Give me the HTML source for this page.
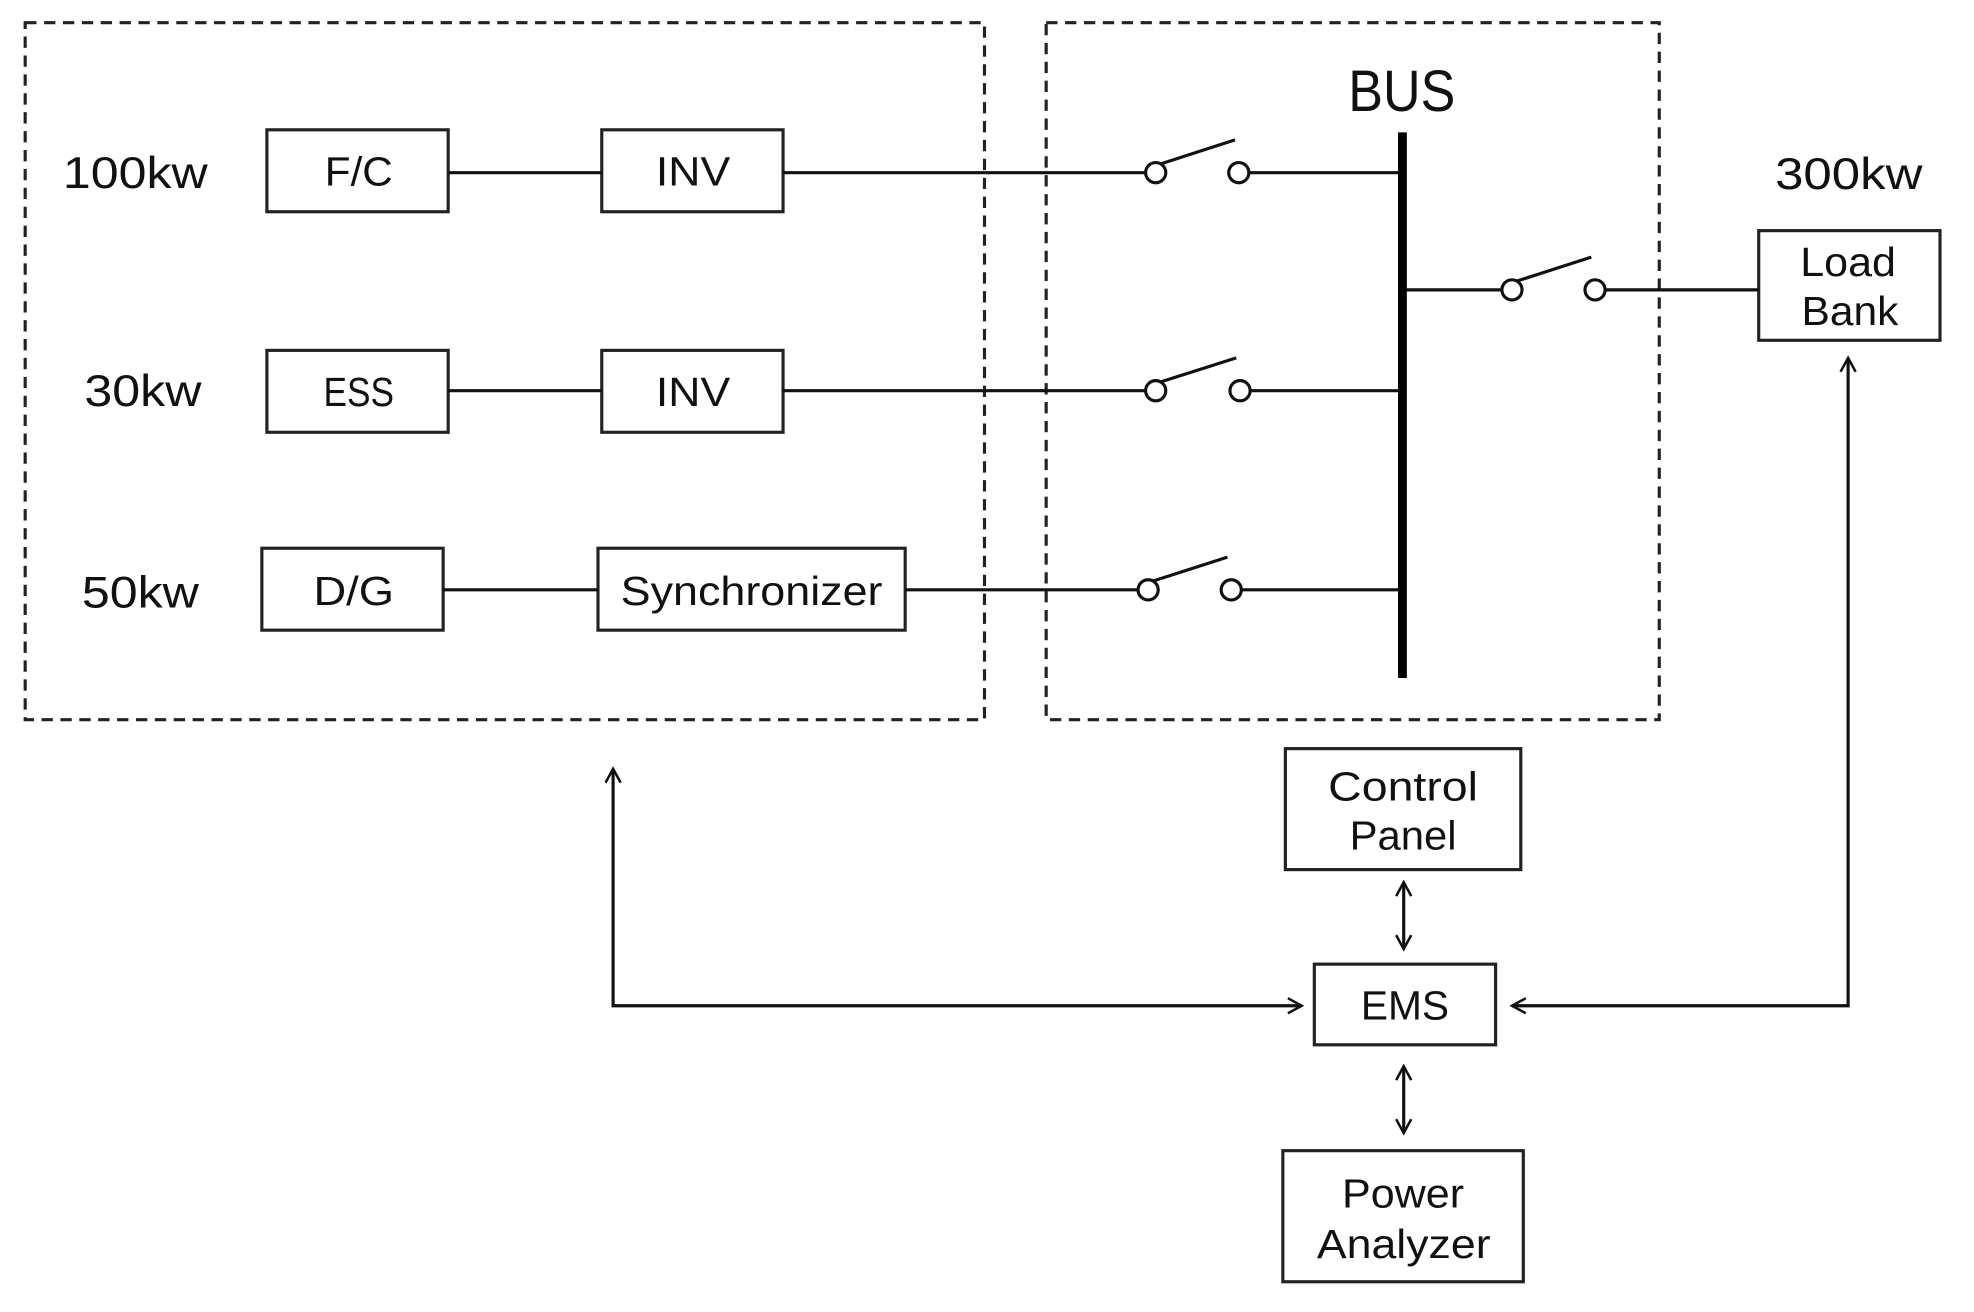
<!DOCTYPE html>
<html><head><meta charset="utf-8"><style>
html,body{margin:0;padding:0;background:#fff;}
svg{display:block;}
text{font-family:"Liberation Sans",sans-serif;fill:#111;}
</style></head><body>
<svg width="1974" height="1312" viewBox="0 0 1568 1041" preserveAspectRatio="none" xmlns="http://www.w3.org/2000/svg">
<defs>
<marker id="a" markerWidth="14" markerHeight="14" refX="12" refY="7" orient="auto-start-reverse" markerUnits="userSpaceOnUse">
<path d="M1,1 L12,7 L1,13" fill="none" stroke="#111" stroke-width="2"/>
</marker>
</defs>
<g fill="none" stroke="#222" stroke-width="2.5" stroke-dasharray="9,6">
<rect x="20" y="18" width="762" height="553"/>
<rect x="831" y="18" width="487" height="553"/>
</g>
<g fill="#fff" stroke="#222" stroke-width="2.5">
<rect x="212" y="103" width="144" height="65"/>
<rect x="478" y="103" width="144" height="65"/>
<rect x="212" y="278" width="144" height="65"/>
<rect x="478" y="278" width="144" height="65"/>
<rect x="208" y="435" width="144" height="65"/>
<rect x="475" y="435" width="244" height="65"/>
<rect x="1397" y="183" width="144" height="87"/>
<rect x="1021" y="594" width="187" height="96"/>
<rect x="1044" y="765" width="144" height="64"/>
<rect x="1019" y="913" width="191" height="104"/>
</g>
<g stroke="#111" stroke-width="2.5" fill="none">
<line x1="356" y1="137" x2="478" y2="137"/>
<line x1="622" y1="137" x2="910" y2="137"/>
<line x1="992" y1="137" x2="1113" y2="137"/>
<circle cx="918" cy="137" r="8"/><circle cx="984" cy="137" r="8"/>
<line x1="922" y1="130" x2="981" y2="111"/>
<line x1="356" y1="310" x2="478" y2="310"/>
<line x1="622" y1="310" x2="910" y2="310"/>
<line x1="993" y1="310" x2="1113" y2="310"/>
<circle cx="918" cy="310" r="8"/><circle cx="985" cy="310" r="8"/>
<line x1="922" y1="303" x2="982" y2="284"/>
<line x1="352" y1="468" x2="475" y2="468"/>
<line x1="719" y1="468" x2="904" y2="468"/>
<line x1="986" y1="468" x2="1113" y2="468"/>
<circle cx="912" cy="468" r="8"/><circle cx="978" cy="468" r="8"/>
<line x1="916" y1="461" x2="975" y2="442"/>
<line x1="1113" y1="230" x2="1193" y2="230"/>
<circle cx="1201" cy="230" r="8"/><circle cx="1267" cy="230" r="8"/>
<line x1="1205" y1="223" x2="1264" y2="204"/>
<line x1="1275" y1="230" x2="1397" y2="230"/>
</g>
<line x1="1114" y1="105" x2="1114" y2="538" stroke="#000" stroke-width="7"/>
<g stroke="#111" stroke-width="2.5" fill="none">
<polyline points="487,610 487,798 1034,798" marker-start="url(#a)" marker-end="url(#a)"/>
<polyline points="1468,284 1468,798 1201,798" marker-start="url(#a)" marker-end="url(#a)"/>
<line x1="1115" y1="700" x2="1115" y2="753" marker-start="url(#a)" marker-end="url(#a)"/>
<line x1="1115" y1="846" x2="1115" y2="899" marker-start="url(#a)" marker-end="url(#a)"/>
</g>
<g font-size="35" lengthAdjust="spacingAndGlyphs">
<text x="50" y="149" textLength="115" lengthAdjust="spacingAndGlyphs">100kw</text>
<text x="67" y="322" textLength="93" lengthAdjust="spacingAndGlyphs">30kw</text>
<text x="65" y="482" textLength="93" lengthAdjust="spacingAndGlyphs">50kw</text>
<text x="1410" y="150" textLength="117" lengthAdjust="spacingAndGlyphs">300kw</text>
</g>
<text x="1071" y="88" font-size="46" textLength="85" lengthAdjust="spacingAndGlyphs">BUS</text>
<g font-size="32">
<text x="258" y="147" textLength="54" lengthAdjust="spacingAndGlyphs">F/C</text>
<text x="521" y="147" textLength="59" lengthAdjust="spacingAndGlyphs">INV</text>
<text x="257" y="322" textLength="56" lengthAdjust="spacingAndGlyphs">ESS</text>
<text x="521" y="322" textLength="59" lengthAdjust="spacingAndGlyphs">INV</text>
<text x="249" y="480" textLength="64" lengthAdjust="spacingAndGlyphs">D/G</text>
<text x="493" y="480" textLength="208" lengthAdjust="spacingAndGlyphs">Synchronizer</text>
<text x="1430" y="219" textLength="76" lengthAdjust="spacingAndGlyphs">Load</text>
<text x="1431" y="258" textLength="77" lengthAdjust="spacingAndGlyphs">Bank</text>
<text x="1055" y="635" textLength="119" lengthAdjust="spacingAndGlyphs">Control</text>
<text x="1072" y="674" textLength="85" lengthAdjust="spacingAndGlyphs">Panel</text>
<text x="1081" y="809" textLength="70" lengthAdjust="spacingAndGlyphs">EMS</text>
<text x="1066" y="958" textLength="97" lengthAdjust="spacingAndGlyphs">Power</text>
<text x="1046" y="998" textLength="138" lengthAdjust="spacingAndGlyphs">Analyzer</text>
</g>
</svg>
</body></html>
